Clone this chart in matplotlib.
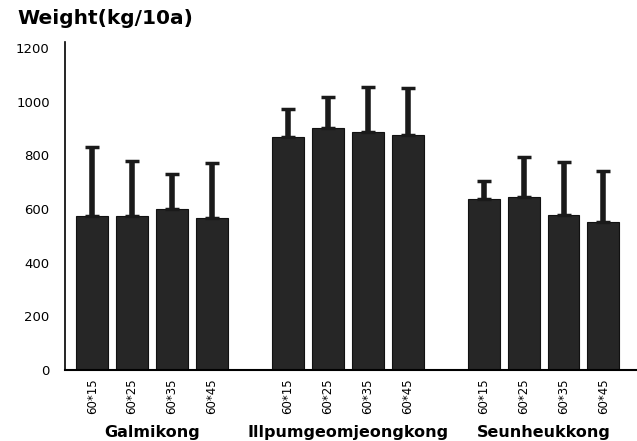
import matplotlib.pyplot as plt
import numpy as np

groups = ["Galmikong", "Illpumgeomjeongkong", "Seunheukkong"]
spacings = ["60*15", "60*25", "60*35", "60*45"]
weight = [[574, 574, 600, 566],
          [868, 902, 887, 876],
          [637, 645, 578, 552]]
weight_top = [[831, 779, 730, 772],
              [973, 1018, 1055, 1051],
              [704, 794, 775, 742]]
yticks = [0, 200, 400, 600, 800, 1000, 1200]

fig = plt.figure(figsize=(6.37, 4.41), dpi=100)
ax = fig.add_axes([65 / 637, 71 / 441, 572 / 637, 328 / 441])

group_step = 4.9
xs, vals, errs, labels = [], [], [], []
for g in range(len(groups)):
    for i in range(len(spacings)):
        xs.append(g * group_step + i)
        vals.append(weight[g][i])
        errs.append(weight_top[g][i] - weight[g][i])
        labels.append(spacings[i])
xs = np.array(xs)

ax.bar(xs, vals, width=0.8, color="#262626", edgecolor="#111111", linewidth=0.8,
       zorder=2)
ax.errorbar(xs, vals, yerr=[np.zeros(len(errs)), errs], fmt="none",
            ecolor="#1a1a1a", elinewidth=4, capsize=5, capthick=2.5, zorder=3)

ax.set_xlim(-0.68, 13.64)
ax.set_ylim(0, 1222)
ax.set_yticks(yticks)
ax.set_yticklabels([str(v) for v in yticks], fontsize=9.5)
ax.set_xticks(xs)
ax.set_xticklabels(labels, rotation=90, fontsize=8.5)
ax.tick_params(axis="y", length=0, pad=11)
ax.tick_params(axis="x", length=0, pad=6)
for s in ["top", "right"]:
    ax.spines[s].set_visible(False)
ax.spines["left"].set_linewidth(1.2)
ax.spines["bottom"].set_linewidth(1.5)

for g, name in enumerate(groups):
    cx = g * group_step + 1.5
    ax.text(cx, -0.19, name, transform=ax.get_xaxis_transform(), ha="center",
            va="center", fontsize=11.5, fontweight="bold")

fig.text(17 / 637, 1 - 18 / 441, "Weight(kg/10a)", fontsize=14.5,
         fontweight="bold", va="center", ha="left")

fig.savefig("out.png", dpi=100)
